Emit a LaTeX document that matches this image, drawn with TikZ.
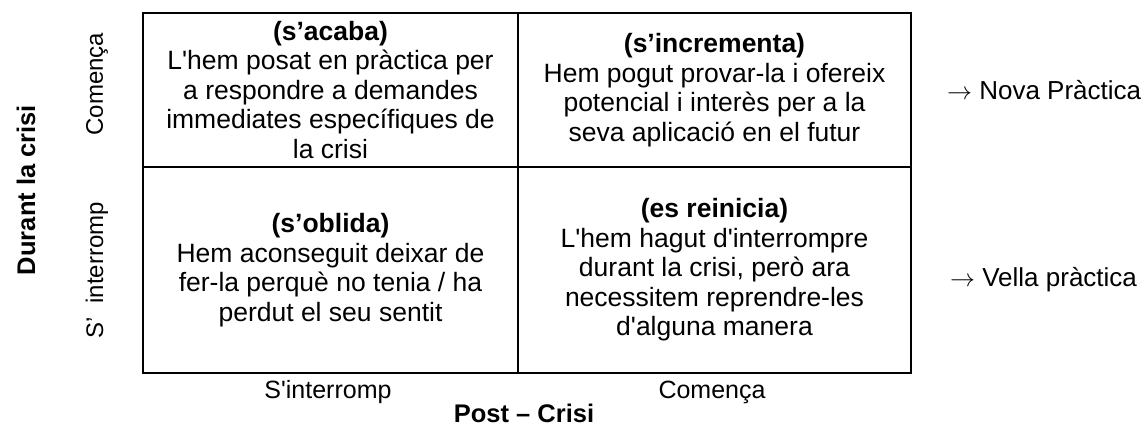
\documentclass[tikz,border=0pt]{standalone}
\usepackage{fontspec}
\setmainfont{Liberation Sans}
\newcommand{\sq}{\textquotesingle}
\begin{document}
\begin{tikzpicture}[x=1pt,y=-1pt,
  cell/.style={draw=black, line width=1.8pt, inner sep=0pt, align=center,
    font=\fontsize{26.5}{29.5}\selectfont},
  lab/.style={font=\fontsize{24}{29}\selectfont, inner sep=0pt},
  xlab/.style={font=\fontsize{25}{29}\selectfont, inner sep=0pt, anchor=base},
  rlab/.style={font=\fontsize{26}{29}\selectfont, inner sep=0pt, anchor=west},
  blab/.style={font=\fontsize{25.5}{29}\selectfont\bfseries, inner sep=0pt}]
\useasboundingbox (0,0) rectangle (1148,429);
\node[cell, minimum width=375pt, minimum height=154pt] (tl) at (330.5,90)
  {\textbf{(s’acaba)}\\L\sq hem posat en pràctica per\\a respondre a demandes\\immediates específiques de\\la crisi};
\node[cell, minimum width=393pt, minimum height=154pt] (tr) at (714.5,90)
  {\textbf{(s’incrementa)}\\Hem pogut provar-la i ofereix\\potencial i interès per a la\\seva aplicació en el futur};
\node[cell, minimum width=375pt, minimum height=206pt] (bl) at (330.5,270)
  {\textbf{(s’oblida)}\\Hem aconseguit deixar de\\fer-la perquè no tenia / ha\\perdut el seu sentit};
\node[cell, minimum width=393pt, minimum height=206pt] (br) at (714.5,270)
  {\textbf{(es reinicia)}\\L\sq hem hagut d\sq interrompre\\durant la crisi, però ara\\necessitem reprendre-les\\d\sq alguna manera};
\node[blab, rotate=90] (durant) at (26,190) {Durant la crisi};
\node[lab, rotate=90] (comv) at (97,84) {Comença};
\node[lab, rotate=90] (intv) at (97,270) {S’\ \ interromp};
\node[xlab] (inth) at (328,398) {S\sq interromp};
\node[xlab] (comh) at (712,398) {Comença};
\node[blab, anchor=base] (post) at (524,422) {Post – Crisi};
\node[rlab] (nova) at (947,90) {$\rightarrow$ Nova Pràctica};
\node[rlab] (vella) at (950,280) {$\rightarrow$ Vella pràctica};
\end{tikzpicture}
\end{document}
